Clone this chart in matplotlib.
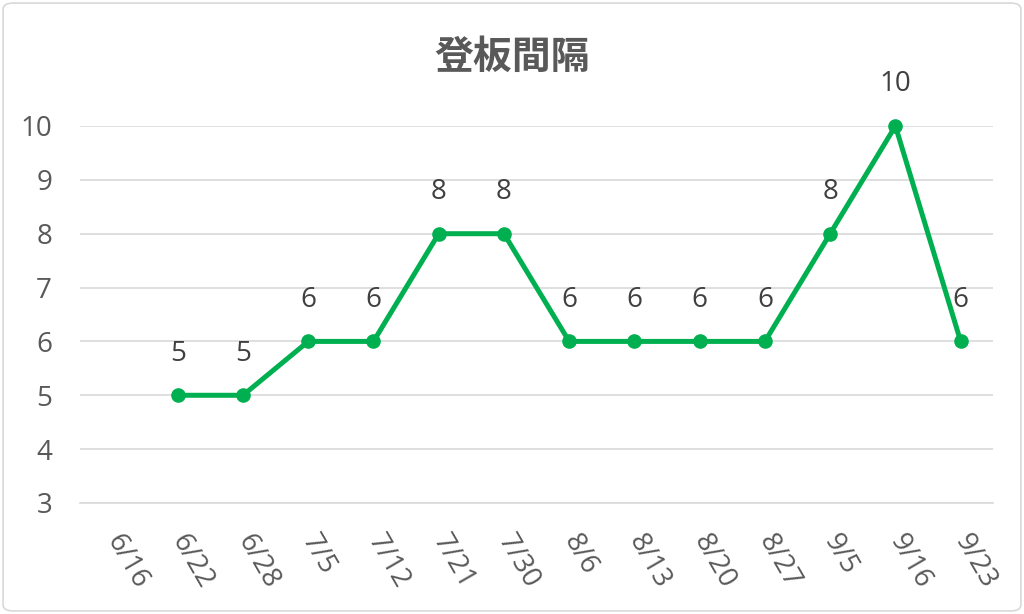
import matplotlib.pyplot as plt
import numpy as np
from matplotlib.patches import FancyBboxPatch

plt.rcParams['font.family'] = ['Open Sans', 'Noto Sans CJK JP', 'DejaVu Sans']

dates = ['6/16', '6/22', '6/28', '7/5', '7/12', '7/21', '7/30',
         '8/6', '8/13', '8/20', '8/27', '9/5', '9/16', '9/23']
intervals = [np.nan, 5, 5, 6, 6, 8, 8, 6, 6, 6, 6, 8, 10, 6]
y_ticks = [3, 4, 5, 6, 7, 8, 9, 10]

green = '#00B050'
grid_gray = '#D9D9D9'
label_gray = '#595959'

fig = plt.figure(figsize=(10.24, 6.14), dpi=100)
ax = fig.add_axes([0.078, 0.1808, 0.892, 0.614])

x = np.arange(len(dates))
ax.plot(x, intervals, color=green, linewidth=3.6, marker='o',
        markersize=9.5, clip_on=False, zorder=3)

for xi, v in zip(x, intervals):
    if np.isnan(v):
        continue
    ax.annotate(str(int(v)), (xi, v), xytext=(0, 30), textcoords='offset points',
                ha='center', va='center', fontsize=20, color='#404040')

ax.set_xlim(-0.5, len(dates) - 0.5)
ax.set_ylim(3, 10)
ax.set_yticks(y_ticks)
ax.set_xticks(x)
ax.set_xticklabels(dates, rotation=-60, ha='left', va='center',
                   rotation_mode='anchor')
ax.tick_params(axis='x', length=0, pad=24, labelsize=20, labelcolor=label_gray)
ax.tick_params(axis='y', length=0, pad=20, labelsize=20, labelcolor=label_gray)

ax.grid(axis='y', color=grid_gray, linewidth=1.2)
ax.set_axisbelow(True)
for side in ['top', 'right', 'left']:
    ax.spines[side].set_visible(False)
ax.spines['bottom'].set_color(grid_gray)
ax.spines['bottom'].set_linewidth(1.2)

fig.text(0.5, 0.907, '登板間隔', ha='center', va='center', fontsize=28,
         fontweight='bold', color=label_gray,
         family=['Noto Sans CJK JP', 'DejaVu Sans'])

border = FancyBboxPatch((0.003, 0.005), 0.994, 0.99,
                        boxstyle='round,pad=0,rounding_size=0.01',
                        transform=fig.transFigure, facecolor='none',
                        edgecolor=grid_gray, linewidth=1.2)
fig.patches.append(border)

fig.savefig('out.png', dpi=100)
